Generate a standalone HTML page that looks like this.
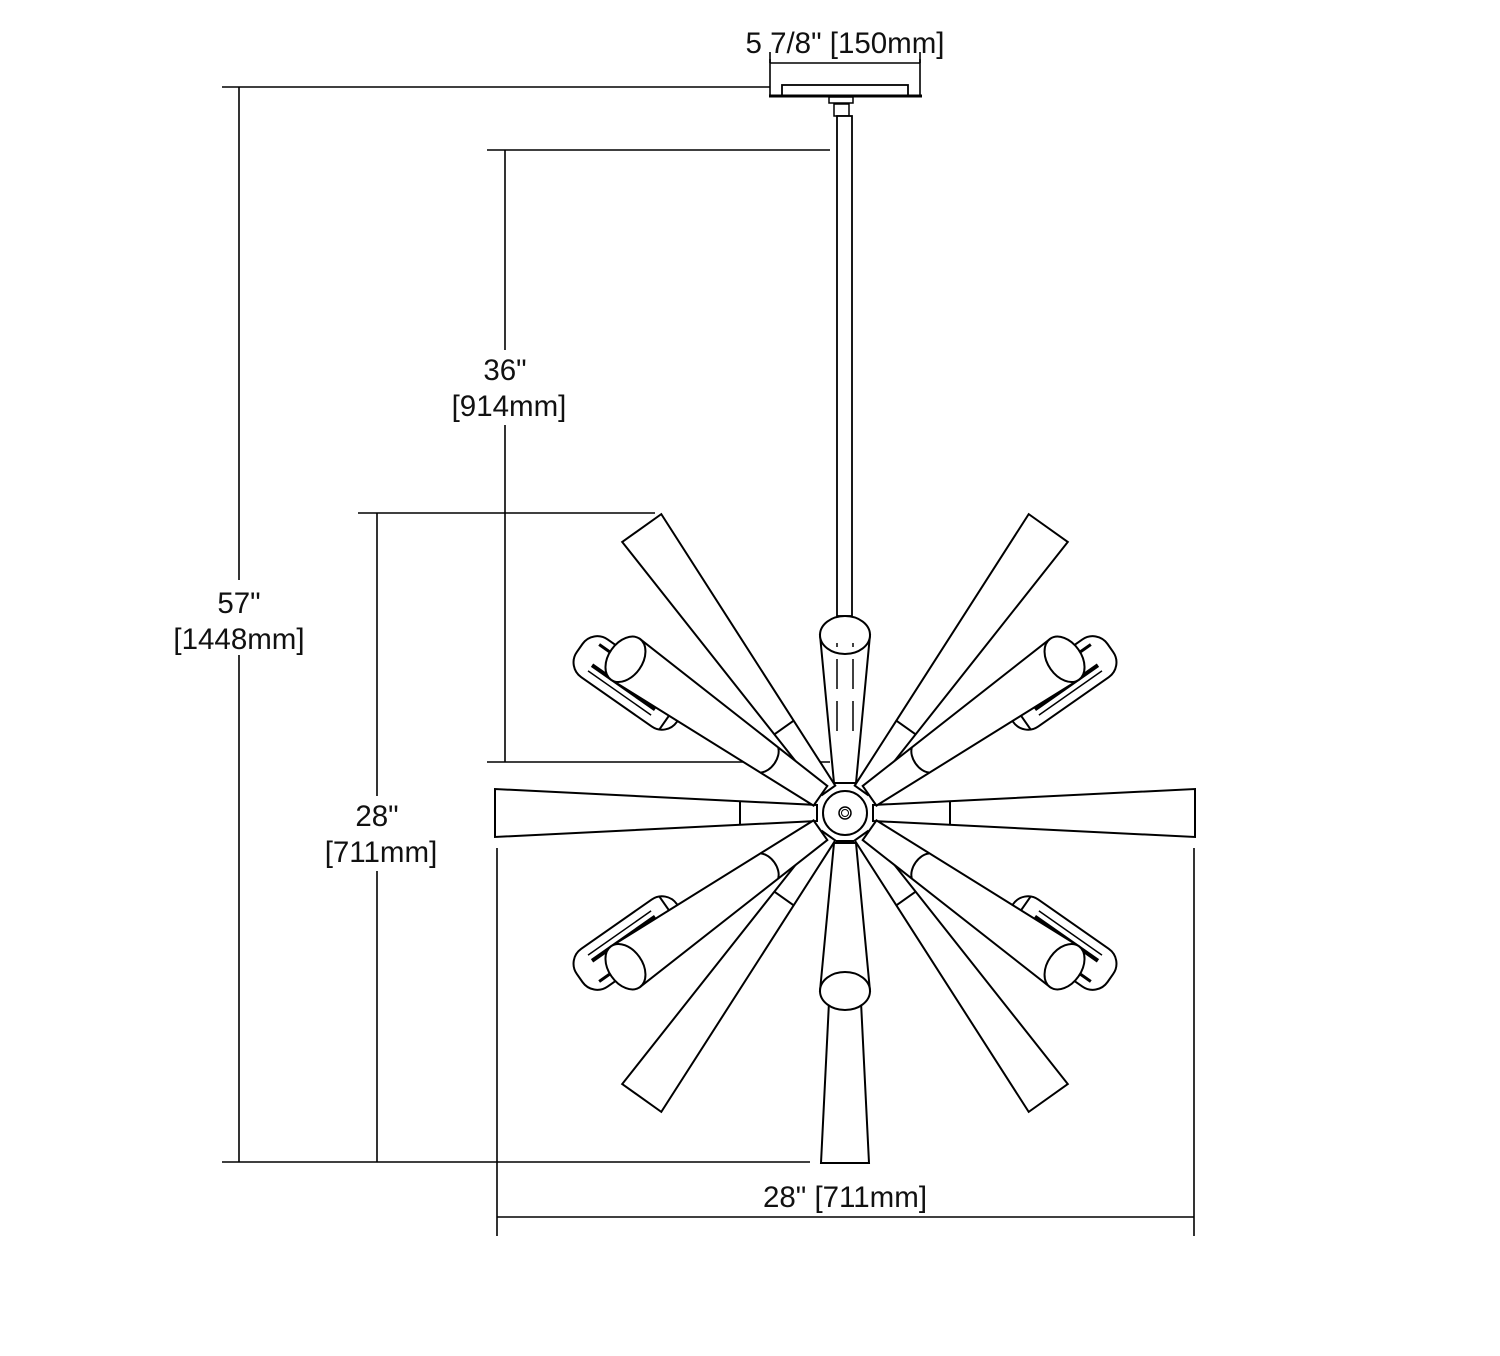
<!DOCTYPE html>
<html><head><meta charset="utf-8"><style>
html,body{margin:0;padding:0;background:#fff}
svg{display:block}
text{font-family:"Liberation Sans",sans-serif;font-size:29.5px;fill:#111;text-anchor:middle}
</style></head><body>
<svg width="1500" height="1356" viewBox="0 0 1500 1356" xmlns="http://www.w3.org/2000/svg">
<defs>
<g id="long">
  <polygon points="28,-8 350,-24 350,24 28,8" fill="#fff" stroke="#000" stroke-width="2"/>
  <line x1="105" y1="-12" x2="105" y2="12" stroke="#000" stroke-width="2"/>
</g>
<g id="short">
  <rect x="190" y="-6" width="122" height="46" rx="18" fill="#fff" stroke="#000" stroke-width="2"/>
  <line x1="215" y1="24" x2="292" y2="24" stroke="#000" stroke-width="4"/>
  <line x1="215" y1="31" x2="292" y2="31" stroke="#000" stroke-width="1.5"/>
  <line x1="270" y1="3" x2="298" y2="3" stroke="#000" stroke-width="3"/>
  <line x1="200" y1="-4" x2="200" y2="38" stroke="#000" stroke-width="2"/>
  <polygon points="30,-12 268,-25 268,25 30,12" fill="#fff" stroke="#000" stroke-width="2"/>
  <path d="M92,-15 A11,17 0 0 0 92,15" fill="none" stroke="#000" stroke-width="2"/>
  <ellipse cx="268" cy="0" rx="17" ry="25" fill="#fff" stroke="#000" stroke-width="2"/>
</g>
<g id="shortv">
  <polygon points="30,-11 178,-25 178,25 30,11" fill="#fff" stroke="#000" stroke-width="2"/>
  <ellipse cx="178" cy="0" rx="19" ry="25" fill="#fff" stroke="#000" stroke-width="2"/>
</g>
</defs>

<g stroke="#000" stroke-width="1.6" fill="none">
  <line x1="222" y1="87" x2="770" y2="87"/>
  <line x1="222" y1="1162" x2="810" y2="1162"/>
  <line x1="239" y1="87" x2="239" y2="1162"/>
  <line x1="487" y1="150" x2="830" y2="150"/>
  <line x1="487" y1="762" x2="830" y2="762"/>
  <line x1="505" y1="150" x2="505" y2="762"/>
  <line x1="358" y1="513" x2="655" y2="513"/>
  <line x1="377" y1="513" x2="377" y2="1162"/>
  <line x1="497" y1="1217" x2="1194" y2="1217"/>
  <line x1="497" y1="848" x2="497" y2="1236"/>
  <line x1="1194" y1="848" x2="1194" y2="1236"/>
  <line x1="770" y1="63" x2="920" y2="63"/>
  <line x1="770" y1="52" x2="770" y2="97"/>
  <line x1="920" y1="52" x2="920" y2="97"/>
</g>
<rect x="170" y="580" width="140" height="75" fill="#fff"/>
<rect x="445" y="350" width="125" height="75" fill="#fff"/>
<rect x="318" y="796" width="125" height="75" fill="#fff"/>
<rect x="740" y="25" width="210" height="34" fill="#fff"/>
<text x="239" y="613">57"</text>
<text x="239" y="649">[1448mm]</text>
<text x="505" y="380">36"</text>
<text x="509" y="416">[914mm]</text>
<text x="377" y="826">28"</text>
<text x="381" y="862">[711mm]</text>
<text x="845" y="1207">28" [711mm]</text>
<text x="845" y="53">5 7/8" [150mm]</text>
<line x1="770" y1="52" x2="770" y2="63" stroke="#000" stroke-width="1.6"/>
<line x1="920" y1="52" x2="920" y2="63" stroke="#000" stroke-width="1.6"/>

<rect x="782" y="85" width="126" height="11" fill="#fff" stroke="#000" stroke-width="1.8"/>
<line x1="769" y1="96" x2="922" y2="96" stroke="#000" stroke-width="3"/>
<rect x="829" y="97" width="24" height="6" fill="#fff" stroke="#000" stroke-width="1.5"/>
<rect x="834" y="104" width="15" height="12" fill="#fff" stroke="#000" stroke-width="1.5"/>
<rect x="837" y="116" width="15" height="500" fill="#fff" stroke="#000" stroke-width="1.8"/>

<g transform="translate(845,813)">
  <use href="#long" transform="rotate(180)"/>
  <use href="#long" transform="rotate(0)"/>
  <use href="#long" transform="rotate(-125.5)"/>
  <use href="#long" transform="rotate(-54.5)"/>
  <use href="#long" transform="rotate(125.5)"/>
  <use href="#long" transform="rotate(54.5)"/>
  <use href="#long" transform="rotate(90)"/>
  <use href="#short" transform="rotate(-35)"/>
  <use href="#short" transform="scale(-1,1) rotate(-35)"/>
  <use href="#short" transform="scale(1,-1) rotate(-35)"/>
  <use href="#short" transform="scale(-1,-1) rotate(-35)"/>
  <use href="#shortv" transform="rotate(90)"/>
  <use href="#shortv" transform="rotate(-90)"/>
  <line x1="-8" y1="-82" x2="-8" y2="-170" stroke="#000" stroke-width="1.5" stroke-dasharray="30,12"/>
  <line x1="8" y1="-82" x2="8" y2="-170" stroke="#000" stroke-width="1.5" stroke-dasharray="30,12"/>
  <circle r="22" fill="#fff" stroke="#000" stroke-width="2"/>
  <circle r="6" fill="#fff" stroke="#000" stroke-width="1.5"/>
  <circle r="3.5" fill="#fff" stroke="#000" stroke-width="1"/>
</g>
</svg>
</body></html>
